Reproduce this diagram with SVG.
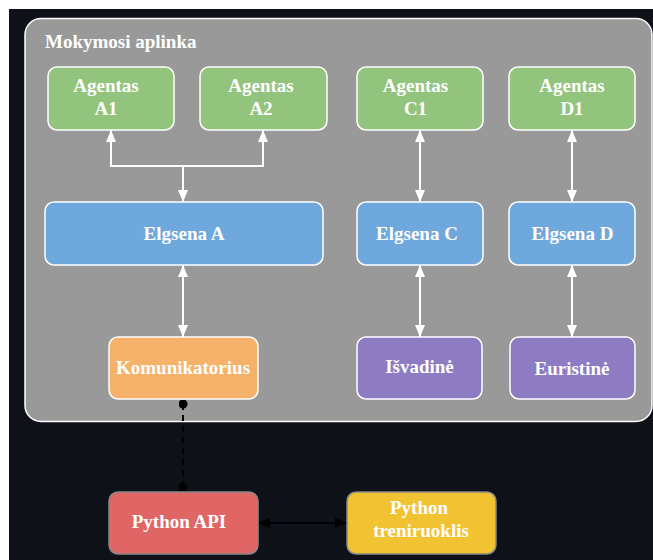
<svg xmlns="http://www.w3.org/2000/svg" width="653" height="560" viewBox="0 0 653 560">
<defs>
<marker id="aw" viewBox="0 0 12 10" refX="12" refY="5" markerWidth="12" markerHeight="10" markerUnits="userSpaceOnUse" orient="auto-start-reverse"><path d="M0,0 L12,5 L0,10 z" fill="#ffffff"/></marker>
<marker id="ab" viewBox="0 0 12 10" refX="12" refY="5" markerWidth="12" markerHeight="10" markerUnits="userSpaceOnUse" orient="auto-start-reverse"><path d="M0,0 L12,5 L0,10 z" fill="#000000"/></marker>
<marker id="dot" viewBox="0 0 10 10" refX="5" refY="5" markerWidth="9" markerHeight="9" markerUnits="userSpaceOnUse"><circle cx="5" cy="5" r="5" fill="#000000"/></marker>
</defs>
<style>
.t{font-family:"Liberation Serif","Times New Roman",serif;font-weight:bold;font-size:19px;fill:#ffffff;text-anchor:middle}
.box{stroke:#ffffff;stroke-width:1.5}
.ext{stroke:#888888;stroke-width:1.5}
.w{stroke:#ffffff;stroke-width:2;fill:none}
</style>
<rect x="0" y="0" width="653" height="560" fill="#ffffff"/>
<rect x="9" y="9" width="644" height="551" fill="#0f1118"/>
<g id="container">
<rect x="25" y="18.5" width="627" height="403" rx="16" fill="#999999" stroke="#ffffff" stroke-width="1.5"/>
<text x="45" y="48" class="t" style="text-anchor:start">Mokymosi aplinka</text>
</g>
<g id="connectors">
<path class="w" d="M111,130 V166 H263 V130" marker-start="url(#aw)" marker-end="url(#aw)"/>
<path class="w" d="M183,166 V202" marker-end="url(#aw)"/>
<path class="w" d="M183,265 V337" marker-start="url(#aw)" marker-end="url(#aw)"/>
<path class="w" d="M420,130 V202" marker-start="url(#aw)" marker-end="url(#aw)"/>
<path class="w" d="M420,265 V337" marker-start="url(#aw)" marker-end="url(#aw)"/>
<path class="w" d="M572,130 V202" marker-start="url(#aw)" marker-end="url(#aw)"/>
<path class="w" d="M572,265 V337" marker-start="url(#aw)" marker-end="url(#aw)"/>
<path d="M183,404 V487" stroke="#000000" stroke-width="2" stroke-dasharray="6,5" fill="none" marker-start="url(#dot)" marker-end="url(#dot)"/>
<path d="M258,523 H347" stroke="#000000" stroke-width="2" fill="none" marker-start="url(#ab)" marker-end="url(#ab)"/>
</g>
<g id="agentA1"><rect class="box" x="48" y="67" width="126" height="63" rx="9" fill="#93c47d"/><text class="t" x="106" y="92">Agentas</text><text class="t" x="106" y="115">A1</text></g>
<g id="agentA2"><rect class="box" x="200" y="67" width="127" height="63" rx="9" fill="#93c47d"/><text class="t" x="261" y="92">Agentas</text><text class="t" x="261" y="115">A2</text></g>
<g id="agentC1"><rect class="box" x="357" y="67" width="126" height="63" rx="9" fill="#93c47d"/><text class="t" x="415.5" y="92">Agentas</text><text class="t" x="415.5" y="115">C1</text></g>
<g id="agentD1"><rect class="box" x="509" y="67" width="126" height="63" rx="9" fill="#93c47d"/><text class="t" x="572" y="92">Agentas</text><text class="t" x="572" y="115">D1</text></g>
<g id="elgsenaA"><rect class="box" x="45" y="202" width="278" height="63" rx="9" fill="#6fa8dc"/><text class="t" x="184" y="240">Elgsena A</text></g>
<g id="elgsenaC"><rect class="box" x="357" y="202" width="126" height="63" rx="9" fill="#6fa8dc"/><text class="t" x="417" y="240">Elgsena C</text></g>
<g id="elgsenaD"><rect class="box" x="509" y="202" width="126" height="63" rx="9" fill="#6fa8dc"/><text class="t" x="572.5" y="240">Elgsena D</text></g>
<g id="komunikatorius"><rect class="box" x="109" y="337" width="149" height="62" rx="9" fill="#f6b26b"/><text class="t" x="183" y="374">Komunikatorius</text></g>
<g id="isvadine"><rect class="box" x="357" y="337" width="125" height="62" rx="9" fill="#8e7cc3"/><text class="t" x="419.5" y="373">Išvadinė</text></g>
<g id="euristine"><rect class="box" x="510" y="337" width="125" height="62" rx="9" fill="#8e7cc3"/><text class="t" x="572" y="375">Euristinė</text></g>
<g id="pythonAPI"><rect class="ext" x="109" y="492" width="149" height="62" rx="9" fill="#e06666"/><text class="t" x="179" y="528">Python API</text></g>
<g id="pythonTreniruoklis"><rect class="ext" x="347" y="492" width="149" height="62" rx="9" fill="#f1c232"/><text class="t" x="419" y="514">Python</text><text class="t" x="421" y="537">treniruoklis</text></g>
</svg>
